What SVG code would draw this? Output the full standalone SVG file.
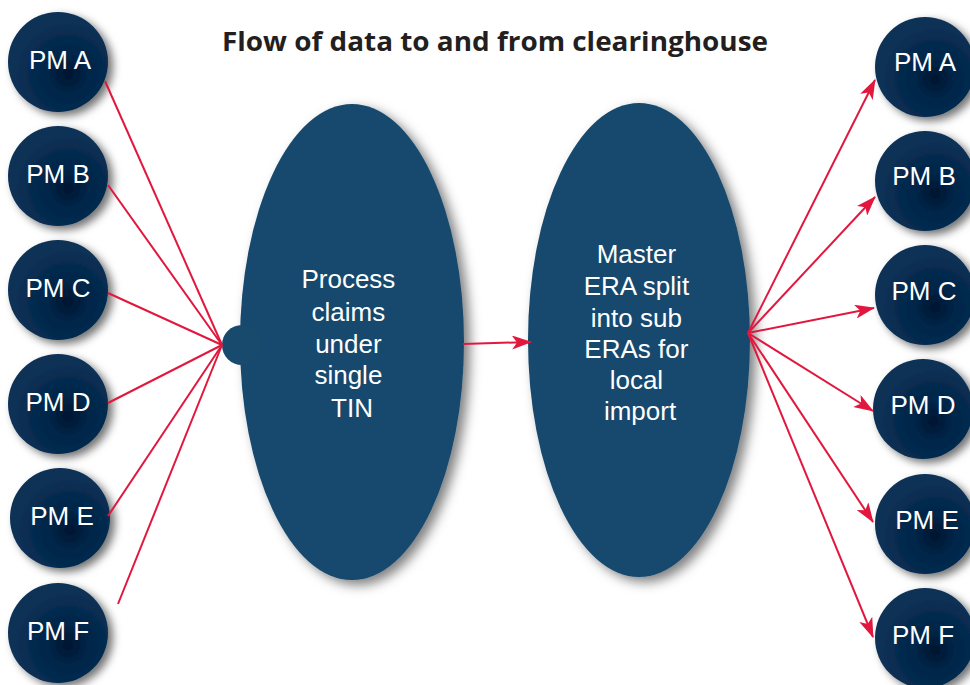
<svg xmlns="http://www.w3.org/2000/svg" width="970" height="685" viewBox="0 0 970 685">
  <style>
    .pm-label { font-family: "Liberation Sans", Arial, sans-serif; font-size: 26px; fill: #ffffff; text-anchor: middle; }
    .oval-label { font-family: "Liberation Sans", Arial, sans-serif; font-size: 26px; fill: #ffffff; text-anchor: middle; }
    .title { font-family: "Open Sans", "Liberation Sans", sans-serif; font-size: 27px; font-weight: bold; fill: #231f20; text-anchor: middle; }
    .link { stroke: #e1173e; stroke-width: 2; fill: none; }
    .pm { fill: url(#pmFill); filter: url(#shadow); }
    .oval { fill: #174a6d; filter: url(#ovalShadow); }
  </style>
  <defs>
    <radialGradient id="pmFill" cx="0.6" cy="0.62" r="0.55">
      <stop offset="0" stop-color="#001530"/>
      <stop offset="0.35" stop-color="#012548"/>
      <stop offset="1" stop-color="#0b3156"/>
    </radialGradient>
    <filter id="shadow" x="-30%" y="-30%" width="170%" height="170%">
      <feDropShadow dx="5" dy="4" stdDeviation="4" flood-color="#000000" flood-opacity="0.55"/>
    </filter>
    <filter id="ovalShadow" x="-30%" y="-20%" width="170%" height="150%">
      <feDropShadow dx="6" dy="5" stdDeviation="6" flood-color="#000000" flood-opacity="0.5"/>
    </filter>
    <marker id="arrow" viewBox="0 0 20 14" refX="19" refY="7" markerWidth="20" markerHeight="14" markerUnits="userSpaceOnUse" orient="auto">
      <path d="M0,0 L20,7 L0,14 L5,7 Z" fill="#e1173e"/>
    </marker>
  </defs>

  <rect width="970" height="685" fill="#ffffff"/>

  <text class="title" x="495" y="51" textLength="546" lengthAdjust="spacingAndGlyphs">Flow of data to and from clearinghouse</text>

  <!-- central ovals -->
  <g id="process-claims">
    <ellipse class="oval" cx="352" cy="342" rx="112" ry="238"/>
    <circle cx="242" cy="345" r="20" fill="#174a6d"/>
    <text class="oval-label">
      <tspan x="352" y="288">Process</tspan>
      <tspan x="352" y="321">claims</tspan>
      <tspan x="352" y="353">under</tspan>
      <tspan x="352" y="384">single</tspan>
      <tspan x="352" y="417">TIN</tspan>
    </text>
  </g>
  <g id="master-era">
    <ellipse class="oval" cx="639" cy="340" rx="111" ry="237"/>
    <text class="oval-label">
      <tspan x="640" y="263">Master</tspan>
      <tspan x="640" y="295">ERA split</tspan>
      <tspan x="640" y="327">into sub</tspan>
      <tspan x="640" y="358">ERAs for</tspan>
      <tspan x="640" y="389">local</tspan>
      <tspan x="640" y="420">import</tspan>
    </text>
  </g>

  <!-- practice nodes, left column -->
  <g id="left-pm-a"><circle class="pm" cx="58" cy="62" r="50"/><text class="pm-label" x="60" y="69">PM A</text></g>
  <g id="left-pm-b"><circle class="pm" cx="58" cy="176" r="50"/><text class="pm-label" x="58" y="183">PM B</text></g>
  <g id="left-pm-c"><circle class="pm" cx="58" cy="290" r="50"/><text class="pm-label" x="58" y="297">PM C</text></g>
  <g id="left-pm-d"><circle class="pm" cx="58" cy="404" r="50"/><text class="pm-label" x="58" y="411">PM D</text></g>
  <g id="left-pm-e"><circle class="pm" cx="60" cy="518" r="50"/><text class="pm-label" x="62" y="525">PM E</text></g>
  <g id="left-pm-f"><circle class="pm" cx="58" cy="633" r="50"/><text class="pm-label" x="58" y="640">PM F</text></g>

  <!-- practice nodes, right column -->
  <g id="right-pm-a"><circle class="pm" cx="925" cy="67" r="50"/><text class="pm-label" x="925" y="71">PM A</text></g>
  <g id="right-pm-b"><circle class="pm" cx="925" cy="181" r="50"/><text class="pm-label" x="924" y="185">PM B</text></g>
  <g id="right-pm-c"><circle class="pm" cx="925" cy="295" r="50"/><text class="pm-label" x="924" y="300">PM C</text></g>
  <g id="right-pm-d"><circle class="pm" cx="923" cy="409" r="50"/><text class="pm-label" x="923" y="414">PM D</text></g>
  <g id="right-pm-e"><circle class="pm" cx="925" cy="524" r="50"/><text class="pm-label" x="927" y="529">PM E</text></g>
  <g id="right-pm-f"><circle class="pm" cx="925" cy="638" r="50"/><text class="pm-label" x="923" y="644">PM F</text></g>

  <!-- connectors -->
  <g id="connectors">
    <line class="link" x1="105" y1="81" x2="222" y2="345"/>
    <line class="link" x1="108" y1="185" x2="222" y2="345"/>
    <line class="link" x1="108" y1="293" x2="222" y2="345"/>
    <line class="link" x1="108" y1="403" x2="222" y2="345"/>
    <line class="link" x1="108" y1="516" x2="222" y2="345"/>
    <line class="link" x1="118" y1="604" x2="222" y2="345"/>

    <line class="link" x1="463" y1="344" x2="531" y2="342" marker-end="url(#arrow)"/>

    <line class="link" x1="748" y1="333" x2="875" y2="80" marker-end="url(#arrow)"/>
    <line class="link" x1="748" y1="333" x2="875" y2="197" marker-end="url(#arrow)"/>
    <line class="link" x1="748" y1="333" x2="874" y2="308" marker-end="url(#arrow)"/>
    <line class="link" x1="748" y1="333" x2="873" y2="411" marker-end="url(#arrow)"/>
    <line class="link" x1="748" y1="333" x2="873" y2="522" marker-end="url(#arrow)"/>
    <line class="link" x1="748" y1="333" x2="873" y2="637" marker-end="url(#arrow)"/>
  </g>
</svg>
